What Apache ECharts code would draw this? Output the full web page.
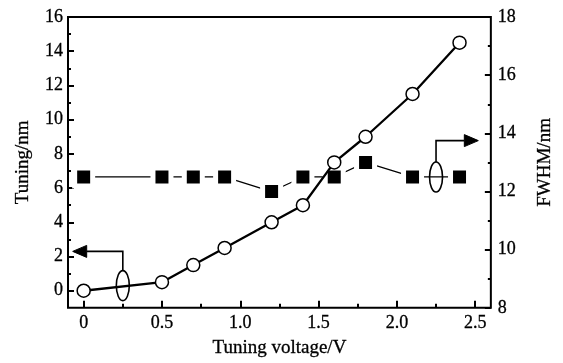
<!DOCTYPE html>
<html>
<head>
<meta charset="utf-8">
<script src="https://cdn.jsdelivr.net/npm/echarts@6/dist/echarts.min.js"></script>
<style>
  html, body { margin: 0; padding: 0; background: #fff; }
  #chart { width: 563px; height: 363px; }
</style>
</head>
<body>
<div id="chart"></div>
<script>
// tuning voltage (V)
const voltage = [0, 0.5, 0.7, 0.9, 1.2, 1.4, 1.6, 1.8, 2.1, 2.4];
// wavelength tuning (nm), left axis, open circles
const tuning = [0, 0.5, 1.5, 2.5, 4.0, 5.0, 7.5, 9.0, 11.5, 14.5];
// FWHM (nm), right axis, filled squares
const fwhm = [12.5, 12.5, 12.5, 12.5, 12.0, 12.5, 12.5, 13.0, 12.5, 12.5];

const xMajor = [0, 0.5, 1.0, 1.5, 2.0, 2.5];
const xMinor = [0.25, 0.75, 1.25, 1.75, 2.25];
const yLeftMajor = [0, 2, 4, 6, 8, 10, 12, 14, 16];
const yLeftMinor = [1, 3, 5, 7, 9, 11, 13, 15];

// callouts: ellipse centre, elbow, arrow tip (data coords)
const leftCallout = { ellipse: [0.25, 0.3], elbow: [0.25, 2.3], tip: [-0.07, 2.3] };
const rightCallout = { ellipse: [2.25, 12.5], elbow: [2.25, 13.75], tip: [2.52, 13.75] };

const FONT = '"Liberation Serif", "DejaVu Serif", serif';
const INK = "#000";

const chart = echarts.init(document.getElementById("chart"), null, { renderer: "canvas" });

const labelStyle = { color: INK, fontFamily: FONT, fontSize: 18, textBorderColor: INK, textBorderWidth: 0.3 };
const titleStyle = { color: INK, fontFamily: FONT, fontSize: 19, textBorderColor: INK, textBorderWidth: 0.3 };
const noLine = { show: false, onZero: false };

chart.setOption({
  animation: false,
  grid: { left: 68, right: 55, top: 17, bottom: 50, show: true, borderColor: INK, borderWidth: 2 },
  xAxis: [
    {
      type: "value", min: -0.1, max: 2.6, position: "bottom",
      name: "Tuning voltage/V", nameLocation: "middle", nameGap: 31,
      nameTextStyle: titleStyle,
      axisLine: noLine,
      splitLine: { show: false },
      axisTick: { inside: true, length: 7, customValues: xMajor, lineStyle: { color: INK, width: 2 } },
      axisLabel: {
        ...labelStyle, margin: 6, customValues: xMajor,
        formatter: (v) => (v === 0 ? "0" : v.toFixed(1)),
      },
    },
    {
      type: "value", min: -0.1, max: 2.6, position: "bottom",
      axisLine: noLine, splitLine: { show: false }, axisLabel: { show: false },
      axisTick: { inside: true, length: 4, customValues: xMinor, lineStyle: { color: INK, width: 2 } },
    },
  ],
  yAxis: [
    {
      type: "value", min: -1, max: 16, position: "left",
      name: "Tuning/nm", nameLocation: "middle", nameGap: 35, nameRotate: 90,
      nameTextStyle: titleStyle,
      axisLine: noLine, splitLine: { show: false },
      axisTick: { inside: true, length: 6, customValues: yLeftMajor, lineStyle: { color: INK, width: 2 } },
      axisLabel: { ...labelStyle, margin: 5, customValues: yLeftMajor },
    },
    {
      type: "value", min: -1, max: 16, position: "left",
      axisLine: noLine, splitLine: { show: false }, axisLabel: { show: false },
      axisTick: { inside: true, length: 3, customValues: yLeftMinor, lineStyle: { color: INK, width: 2 } },
    },
    {
      type: "value", min: 8, max: 18, interval: 2, position: "right",
      name: "FWHM/nm", nameLocation: "middle", nameGap: 45, nameRotate: 90,
      nameTextStyle: titleStyle,
      axisLine: noLine, splitLine: { show: false },
      axisTick: { inside: true, length: 6, lineStyle: { color: INK, width: 2 } },
      minorTick: { show: true, splitNumber: 2, length: 3, lineStyle: { color: INK, width: 2 } },
      axisLabel: { ...labelStyle, margin: 7 },
    },
  ],
  series: [
    {
      name: "FWHM", type: "line", xAxisIndex: 0, yAxisIndex: 2,
      data: voltage.map((v, i) => [v, fwhm[i]]),
      symbol: "rect", symbolSize: 18,
      // white halo leaves a small gap between the marker and its line
      itemStyle: { color: INK, borderColor: "#fff", borderWidth: 5 },
      lineStyle: { color: INK, width: 1.3 },
      z: 2,
    },
    {
      name: "Tuning", type: "line", xAxisIndex: 0, yAxisIndex: 0,
      data: voltage.map((v, i) => [v, tuning[i]]),
      symbol: "circle", symbolSize: 13,
      itemStyle: { color: "#fff", borderColor: INK, borderWidth: 1.5 },
      lineStyle: { color: INK, width: 2.3 },
      z: 3,
    },
  ],
});

function callout(c, yAxisIndex, dir) {
  const px = (p) => chart.convertToPixel({ xAxisIndex: 0, yAxisIndex }, p);
  const e = px(c.ellipse);
  const k = px(c.elbow);
  const t = px(c.tip);
  const ry = 15, rx = 6.5, ah = 14, aw = 6;
  const style = { stroke: INK, lineWidth: 1.6, fill: null };
  return [
    { type: "ellipse", shape: { cx: e[0], cy: e[1], rx, ry }, style, z: 10 },
    { type: "polyline", shape: { points: [[e[0], e[1] - ry], k, [t[0] - dir * ah, t[1]]] }, style, z: 10 },
    {
      type: "polygon",
      shape: { points: [t, [t[0] - dir * ah, t[1] - aw], [t[0] - dir * ah, t[1] + aw]] },
      style: { fill: INK, stroke: INK, lineWidth: 1 }, z: 10,
    },
  ];
}

chart.setOption({
  graphic: [...callout(leftCallout, 0, -1), ...callout(rightCallout, 2, 1)],
});
</script>
</body>
</html>
